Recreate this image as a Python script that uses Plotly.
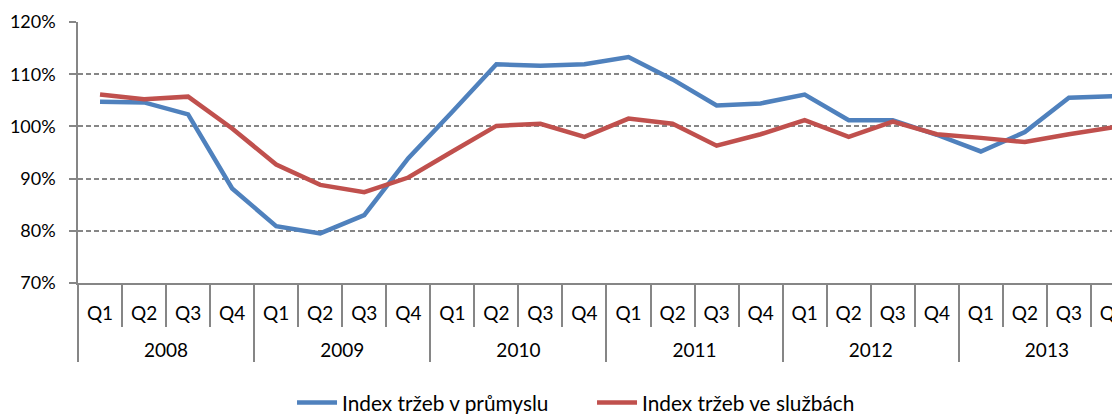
import plotly.graph_objects as go

year_labels = ["2008", "2009", "2010", "2011", "2012", "2013"]
quarter_labels = ["Q1", "Q2", "Q3", "Q4"]
years = [y for y in year_labels for _ in quarter_labels]
quarters = quarter_labels * len(year_labels)

prumysl = [104.7, 104.6, 102.3, 88.1, 80.9, 79.5, 83.0, 93.9,
           102.8, 111.9, 111.6, 111.9, 113.3, 109.0, 104.0, 104.4,
           106.1, 101.2, 101.2, 98.4, 95.2, 98.9, 105.5, 105.8]
sluzby = [106.1, 105.2, 105.7, 99.6, 92.7, 88.8, 87.4, 90.2,
          95.2, 100.1, 100.5, 98.0, 101.5, 100.5, 96.3, 98.5,
          101.2, 98.0, 100.9, 98.5, 97.8, 97.0, 98.5, 99.8]

names = ["Index tržeb v průmyslu", "Index tržeb ve službách"]
colors = ["#4F81BD", "#C0504D"]

font = "Lato, 'Open Sans', sans-serif"
grey = "#868686"

# year label placed one line lower (Excel-like spacing)
x_outer = ["<br>" + y for y in years]

fig = go.Figure()
for name, vals, col in zip(names, [prumysl, sluzby], colors):
    fig.add_trace(go.Scatter(
        x=[x_outer, quarters], y=[v / 100 for v in vals], mode="lines", name=name,
        line=dict(color=col, width=4.5), cliponaxis=False,
    ))

fig.update_layout(
    width=1112, height=406,
    margin=dict(l=70, r=0, t=14, b=131, autoexpand=False),
    paper_bgcolor="white", plot_bgcolor="white",
    font=dict(family=font, size=19, color="#000000"),
    showlegend=True,
    legend=dict(orientation="h", x=0.2054, xanchor="left", y=-0.46, yanchor="middle",
                font=dict(size=20.8), itemwidth=40, entrywidth=245, traceorder="normal"),
    xaxis=dict(
        type="multicategory", range=[-0.5, 23.16], automargin=False,
        showline=True, linecolor=grey, linewidth=1.5,
        ticks="outside", ticklen=42, tickcolor=grey, tickwidth=1.5,
        showdividers=True, dividercolor=grey, dividerwidth=1.5,
        showgrid=False, tickfont=dict(size=19), ticklabelstandoff=12,
    ),
    yaxis=dict(
        range=[0.70, 1.20], tickvals=[0.7, 0.8, 0.9, 1.0, 1.1, 1.2], tickformat=".0%",
        automargin=False,
        showline=True, linecolor=grey, linewidth=1.5,
        ticks="outside", ticklen=7, tickcolor=grey, tickwidth=1.5,
        showgrid=True, gridcolor=grey, gridwidth=1.5, griddash="5px,3px",
        zeroline=False, tickfont=dict(size=18), ticklabelstandoff=10,
    ),
)

fig.write_html("out.html")
